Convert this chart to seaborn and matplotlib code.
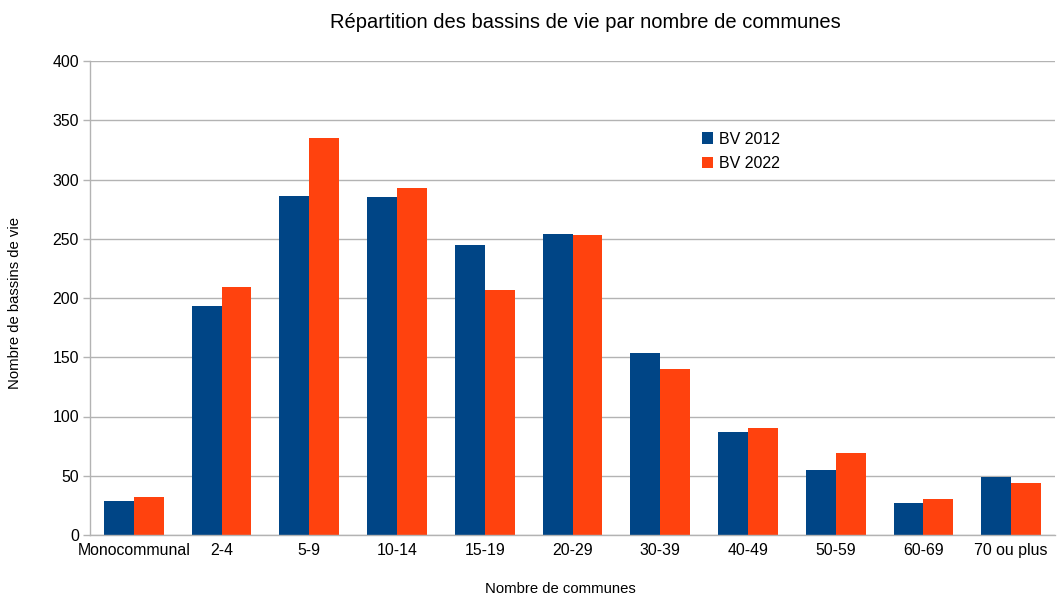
import seaborn as sns
import matplotlib.pyplot as plt
import pandas as pd
from matplotlib.patches import Patch

categories = ["Monocommunal", "2-4", "5-9", "10-14", "15-19", "20-29",
              "30-39", "40-49", "50-59", "60-69", "70 ou plus"]
bv_2012 = [29, 193, 286, 285, 245, 254, 154, 87, 55, 27, 49]
bv_2022 = [32, 209, 335, 293, 207, 253, 140, 90, 69, 30, 44]
series = ["BV 2012", "BV 2022"]

df = pd.DataFrame({
    "cat": categories * 2,
    "val": bv_2012 + bv_2022,
    "serie": [series[0]] * len(categories) + [series[1]] * len(categories),
})

sns.set_theme(style="white")
plt.rcParams['font.family'] = ['Liberation Sans', 'DejaVu Sans']
plt.rcParams['text.color'] = 'black'

colors = ["#004586", "#ff420e"]

fig = plt.figure(figsize=(10.58, 5.96), dpi=100)
ax = fig.add_axes([90 / 1058, 61 / 596, 965 / 1058, 474 / 596])

sns.barplot(data=df, x="cat", y="val", hue="serie", palette=colors,
            width=0.68, saturation=1, ax=ax, legend=False,
            edgecolor="none", linewidth=0)

ax.set_ylim(0, 400)
ax.set_xlim(-0.5, len(categories) - 0.5)
ax.set_yticks(range(0, 401, 50))
ax.yaxis.grid(True, color="#b3b3b3", linewidth=1)
ax.set_axisbelow(True)

for s in ["top", "right"]:
    ax.spines[s].set_visible(False)
for s in ["left", "bottom"]:
    ax.spines[s].set_color("#b3b3b3")
    ax.spines[s].set_linewidth(1)

# ticks between categories on x, short ticks on y
ax.set_xticks(range(len(categories)))
ax.set_xticklabels(categories)
ax.set_xticks([i - 0.5 for i in range(len(categories) + 1)], minor=True)
ax.tick_params(axis="x", which="major", length=0, pad=6, labelsize=11.4, colors="black")
ax.tick_params(axis="x", which="minor", length=5, width=1, color="#b3b3b3", direction="out")
ax.tick_params(axis="y", length=5, width=1, color="#b3b3b3", direction="out",
               labelsize=11.4, pad=3, labelcolor="black")
ax.tick_params(axis="both", bottom=True, left=True)

ax.set_xlabel("Nombre de communes", fontsize=10.7, color="black")
ax.xaxis.set_label_coords((560 - 90) / 965, -(582 - 535) / 474)
ax.set_ylabel("Nombre de bassins de vie", fontsize=10.7, color="black")
ax.yaxis.set_label_coords(-(90 - 22) / 965, 0.49)

fig.suptitle("Répartition des bassins de vie par nombre de communes",
             fontsize=14.5, y=0.978, x=585 / 1058, color="black")

handles = [Patch(facecolor=c, edgecolor="none") for c in colors]
ax.legend(handles, series, loc="upper left", bbox_to_anchor=(0.634, 0.851),
          frameon=False, fontsize=11.5, handlelength=0.7, handleheight=0.7,
          handletextpad=0.4, labelspacing=0.6, borderaxespad=0, borderpad=0,
          labelcolor="black")

fig.savefig("out.png", dpi=100)
